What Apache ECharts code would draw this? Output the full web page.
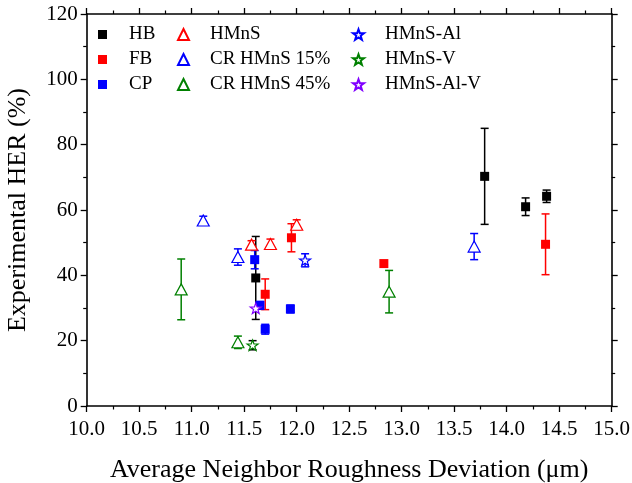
<!DOCTYPE html>
<html><head><meta charset="utf-8">
<script src="https://cdn.jsdelivr.net/npm/echarts@6/dist/echarts.min.js"></script>
<style>html,body{margin:0;padding:0;background:#fff}#c{width:632px;height:483px}</style>
</head><body><div id="c"></div>
<script>
// ---- data ----
const HB_x = [11.61, 13.79, 14.18, 14.38];
const HB_y = [39.2, 70.3, 61.0, 64.2];
const HB_err = [12.7, 14.7, 2.7, 1.9];

const FB_x = [11.70, 11.95, 12.83, 14.37];
const FB_y = [34.2, 51.5, 43.6, 49.5];
const FB_err = [4.7, 4.3, 0, 9.3];

const CP_x = [11.60, 11.65, 11.70, 11.94];
const CP_y = [44.8, 30.8, 23.5, 29.7];
const CP_err = [2.8, 1.2, 1.5, 1.2];

const HMnS_x = [11.57, 11.75, 12.00];
const HMnS_y = [49.4, 49.6, 55.5];
const HMnS_err = [1.2, 1.5, 1.5];

const CR15_x = [11.11, 11.44, 13.69];
const CR15_y = [56.8, 45.6, 48.8];
const CR15_err = [1.3, 2.5, 4.0];

const CR45_x = [10.90, 11.44, 12.88];
const CR45_y = [35.7, 19.5, 35.0];
const CR45_err = [9.3, 1.9, 6.5];

const HMnSAl_x = [12.08];
const HMnSAl_y = [44.6];
const HMnSAl_err = [2.0];

const HMnSV_x = [11.58];
const HMnSV_y = [18.6];
const HMnSV_err = [1.4];

const HMnSAlV_x = [11.61];
const HMnSAlV_y = [29.9];
const HMnSAlV_err = [0];

const seriesNames = ['HB','FB','CP','HMnS','CR HMnS 15%','CR HMnS 45%','HMnS-Al','HMnS-V','HMnS-Al-V'];
const xTicks = {min:10, max:15, interval:0.5};
const yTicks = {min:0, max:120, interval:20};
const xTitle = 'Average Neighbor Roughness Deviation (\u03bcm)';
const yTitle = 'Experimental HER (%)';

// ---- styling ----
const FONT = 'Liberation Serif';
const STAR = 'path://M0,-10L2.35,-3.24L9.51,-3.09L3.8,1.24L5.88,8.09L0,4L-5.88,8.09L-3.8,1.24L-9.51,-3.09L-2.35,-3.24Z';
const defs = [
  {name:'HB', x:HB_x, y:HB_y, e:HB_err, color:'#000000', sym:'rect', filled:true, size:9},
  {name:'FB', x:FB_x, y:FB_y, e:FB_err, color:'#ff0000', sym:'rect', filled:true, size:9},
  {name:'CP', x:CP_x, y:CP_y, e:CP_err, color:'#0000ff', sym:'rect', filled:true, size:9},
  {name:'HMnS', x:HMnS_x, y:HMnS_y, e:HMnS_err, color:'#ff0000', sym:'triangle', filled:false, size:[12,11]},
  {name:'CR HMnS 15%', x:CR15_x, y:CR15_y, e:CR15_err, color:'#0000ff', sym:'triangle', filled:false, size:[12,11]},
  {name:'CR HMnS 45%', x:CR45_x, y:CR45_y, e:CR45_err, color:'#008000', sym:'triangle', filled:false, size:[12,11]},
  {name:'HMnS-Al', x:HMnSAl_x, y:HMnSAl_y, e:HMnSAl_err, color:'#0000ff', sym:STAR, filled:false, size:11},
  {name:'HMnS-V', x:HMnSV_x, y:HMnSV_y, e:HMnSV_err, color:'#008000', sym:STAR, filled:false, size:11, ecolor:'#000000'},
  {name:'HMnS-Al-V', x:HMnSAlV_x, y:HMnSAlV_y, e:HMnSAlV_err, color:'#8000ff', sym:STAR, filled:false, size:11}
];

function errRender(color){
  return function(params, api){
    const x = api.value(0), y = api.value(1), e = api.value(2);
    if (!e) return null;
    const t = api.coord([x, y + e]), b = api.coord([x, y - e]);
    const w = 4;
    const st = {stroke: color, lineWidth: 1.5};
    return {type:'group', children:[
      {type:'line', shape:{x1:t[0], y1:t[1], x2:b[0], y2:b[1]}, style:st},
      {type:'line', shape:{x1:t[0]-w, y1:t[1], x2:t[0]+w, y2:t[1]}, style:st},
      {type:'line', shape:{x1:b[0]-w, y1:b[1], x2:b[0]+w, y2:b[1]}, style:st}
    ]};
  };
}

const series = [];
defs.forEach(d => {
  series.push({
    type:'custom', name: d.name + ' err', renderItem: errRender(d.ecolor || d.color),
    data: d.x.map((v,i)=>[v, d.y[i], d.e[i]]), encode:{x:0, y:1}, z:1, clip:false, silent:true
  });
});
defs.forEach(d => {
  series.push({
    type:'scatter', name:d.name, symbol:d.sym, symbolSize:d.size, symbolKeepAspect:true,
    data: d.x.map((v,i)=>[v, d.y[i]]), z:3,
    itemStyle: d.filled ? {color:d.color, borderWidth:0, opacity:1} : {color:'#ffffff', borderColor:d.color, borderWidth:1.2, opacity:1}
  });
});

function legend(names, left, pad, isz){
  return {
    data: names, left: left, top: 19.5, orient:'vertical', itemWidth:isz, itemHeight:isz, itemGap:5,
    textStyle:{fontFamily:FONT, fontSize:19, color:'#000', padding:[0,0,0,pad], lineHeight:20},
    selectedMode:false
  };
}

const axisCommon = {
  axisLine:{show:true, onZero:false, lineStyle:{color:'#000', width:1.6}},
  splitLine:{show:false},
  axisTick:{show:true, inside:false, length:6, lineStyle:{color:'#000', width:1.3}},
  minorTick:{show:true, splitNumber:2, length:3.5, lineStyle:{color:'#000', width:1.2}}
};

const option = {
  animation:false,
  backgroundColor:'#fff',
  grid:{left:86.7, right:20.3, top:14, bottom:77, containLabel:false, outerBoundsMode:'none'},
  legend:[
    legend(['HB','FB','CP'], 93, 17, 9),
    legend(['HMnS','CR HMnS 15%','CR HMnS 45%'], 172, 16, 11),
    legend(['HMnS-Al','HMnS-V','HMnS-Al-V'], 347, 16, 11)
  ],
  xAxis:[
    Object.assign({type:'value', position:'bottom', min:xTicks.min, max:xTicks.max, interval:xTicks.interval,
      name:xTitle, nameLocation:'middle', nameGap:51,
      nameTextStyle:{fontFamily:FONT, fontSize:26, color:'#000'},
      axisLabel:{fontFamily:FONT, fontSize:21, color:'#000', margin:13, formatter:v=>v.toFixed(1)}}, axisCommon),
    Object.assign({type:'value', position:'top', min:xTicks.min, max:xTicks.max, interval:xTicks.interval,
      axisLabel:{show:false}}, axisCommon)
  ],
  yAxis:[
    Object.assign({type:'value', position:'left', min:yTicks.min, max:yTicks.max, interval:yTicks.interval,
      name:yTitle, nameLocation:'middle', nameGap:56,
      nameTextStyle:{fontFamily:FONT, fontSize:26, color:'#000'},
      axisLabel:{fontFamily:FONT, fontSize:21, color:'#000', margin:9}}, axisCommon),
    Object.assign({type:'value', position:'right', min:yTicks.min, max:yTicks.max, interval:yTicks.interval,
      axisLabel:{show:false}}, axisCommon)
  ],
  series: series
};

const chart = echarts.init(document.getElementById('c'), null, {renderer:'canvas'});
chart.setOption(option);
</script></body></html>
